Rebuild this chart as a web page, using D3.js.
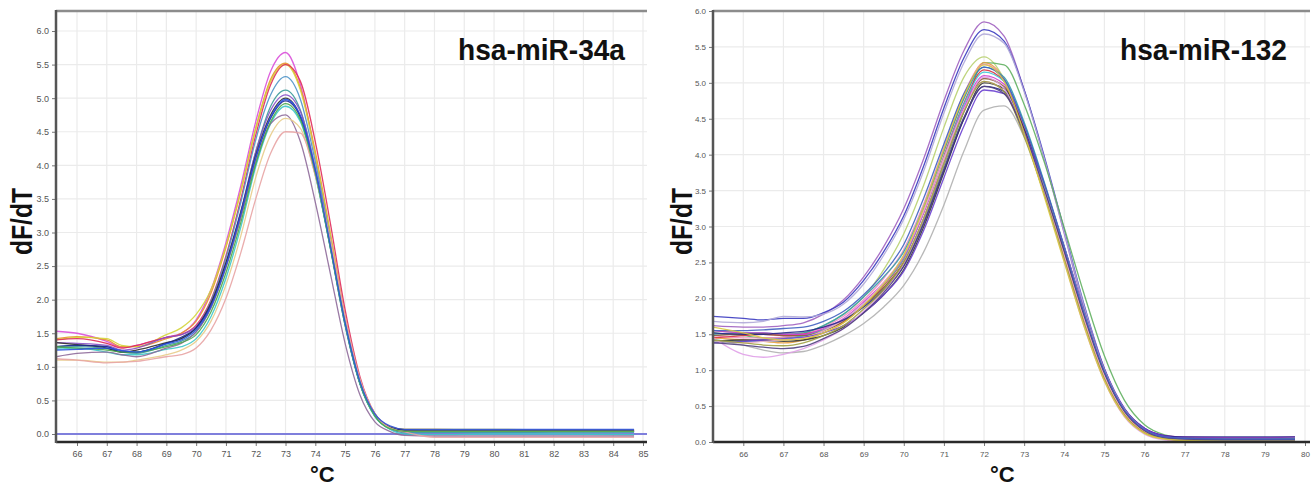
<!DOCTYPE html>
<html>
<head>
<meta charset="utf-8">
<script src="https://cdn.jsdelivr.net/npm/d3@7"></script>
<style>
  body { margin: 0; background: #fff; }
  svg { display: block; }
</style>
</head>
<body>
<svg id="fig" width="1312" height="486"></svg>
<script>
// ---------- datos: hsa-miR-34a ----------
const tempA = [65.3, 66, 67, 67.5, 68, 69, 69.5, 70, 70.5, 71, 71.5, 72, 72.5, 73, 73.5, 74, 74.5, 75, 75.5, 76, 76.5, 77, 78, 80, 82, 84.7];
const a34_01 = [1.53,1.50,1.38,1.29,1.32,1.44,1.50,1.70,2.15,2.85,3.70,4.65,5.40,5.68,5.20,4.15,2.95,1.70,0.78,0.28,0.10,0.05,0.04,0.04,0.04,0.04];
const a34_02 = [1.42,1.45,1.40,1.30,1.30,1.42,1.50,1.68,2.10,2.78,3.62,4.55,5.28,5.52,5.15,4.20,3.00,1.75,0.80,0.30,0.11,0.07,0.07,0.06,0.06,0.06];
const a34_03 = [1.40,1.44,1.42,1.32,1.30,1.48,1.58,1.78,2.15,2.80,3.62,4.55,5.25,5.50,5.12,4.15,2.98,1.72,0.80,0.30,0.11,0.07,0.07,0.07,0.06,0.06];
const a34_04 = [1.40,1.42,1.35,1.28,1.32,1.44,1.48,1.62,2.00,2.65,3.50,4.45,5.20,5.50,5.25,4.35,3.15,1.85,0.85,0.30,0.10,0.05,0.04,0.04,0.04,0.04];
const a34_05 = [1.30,1.32,1.30,1.24,1.22,1.35,1.42,1.58,1.98,2.62,3.45,4.38,5.05,5.32,4.98,4.05,2.90,1.68,0.76,0.27,0.08,0.02,0.02,0.02,0.03,0.03];
const a34_06 = [1.28,1.30,1.27,1.22,1.20,1.32,1.38,1.52,1.90,2.50,3.30,4.20,4.88,5.12,4.82,3.95,2.85,1.65,0.75,0.27,0.08,0.03,0.03,0.03,0.03,0.03];
const a34_07 = [1.36,1.35,1.32,1.25,1.28,1.44,1.48,1.60,1.95,2.55,3.32,4.20,4.82,5.05,4.80,3.95,2.85,1.65,0.75,0.27,0.09,0.04,0.04,0.04,0.04,0.04];
const a34_08 = [1.36,1.33,1.28,1.22,1.25,1.36,1.42,1.58,1.95,2.55,3.30,4.15,4.75,5.00,4.72,3.88,2.78,1.62,0.75,0.28,0.10,0.06,0.05,0.05,0.05,0.05];
const a34_09 = [1.30,1.32,1.30,1.22,1.22,1.35,1.44,1.58,1.92,2.50,3.25,4.10,4.70,4.96,4.72,3.90,2.80,1.65,0.76,0.28,0.09,0.05,0.05,0.05,0.05,0.05];
const a34_10 = [1.26,1.28,1.22,1.18,1.18,1.26,1.30,1.42,1.75,2.32,3.08,3.98,4.62,4.88,4.65,3.85,2.78,1.62,0.74,0.26,0.07,0.00,-0.01,0.00,0.00,-0.01];
const a34_11 = [1.15,1.20,1.22,1.18,1.15,1.28,1.35,1.52,1.88,2.48,3.22,4.05,4.62,4.75,4.35,3.45,2.40,1.35,0.58,0.18,0.04,-0.02,-0.03,-0.03,-0.03,-0.03];
const a34_12 = [1.10,1.10,1.07,1.07,1.10,1.18,1.25,1.38,1.68,2.22,2.95,3.82,4.45,4.70,4.55,3.85,2.85,1.70,0.80,0.30,0.09,0.04,0.04,0.04,0.04,0.04];
const a34_13 = [1.12,1.10,1.06,1.07,1.08,1.15,1.18,1.28,1.55,2.02,2.70,3.50,4.18,4.50,4.48,3.85,2.90,1.75,0.82,0.30,0.09,0.03,-0.05,-0.05,-0.05,-0.05];
const a34_14 = [1.30,1.28,1.25,1.22,1.22,1.30,1.36,1.48,1.82,2.40,3.15,4.02,4.65,4.92,4.68,3.88,2.80,1.65,0.76,0.27,0.08,0.04,0.04,0.04,0.04,0.04];
const a34_15 = [1.25,1.26,1.28,1.24,1.22,1.34,1.40,1.55,1.90,2.50,3.28,4.12,4.72,4.98,4.74,3.92,2.82,1.66,0.78,0.30,0.12,0.07,0.07,0.07,0.07,0.07];
const curvesA = [a34_01, a34_02, a34_03, a34_04, a34_05, a34_06, a34_07, a34_08, a34_09, a34_10, a34_11, a34_12, a34_13, a34_14, a34_15];
const xTicksA = [66, 67, 68, 69, 70, 71, 72, 73, 74, 75, 76, 77, 78, 79, 80, 81, 82, 83, 84, 85];

// ---------- datos: hsa-miR-132 ----------
const tempB = [65.25, 66, 66.5, 67, 67.5, 68, 68.5, 69, 69.5, 70, 70.5, 71, 71.5, 72, 72.5, 73, 73.5, 74, 74.5, 75, 75.5, 76, 76.5, 77, 78, 79, 79.75];
const b132_01 = [1.62,1.60,1.60,1.62,1.66,1.78,1.98,2.30,2.72,3.25,3.95,4.75,5.45,5.85,5.65,4.90,3.95,2.90,1.85,0.98,0.42,0.15,0.06,0.04,0.03,0.03,0.03];
const b132_02 = [1.75,1.72,1.70,1.72,1.72,1.80,1.95,2.25,2.65,3.15,3.85,4.65,5.35,5.74,5.58,4.90,3.98,2.95,1.90,1.02,0.45,0.17,0.07,0.05,0.05,0.05,0.05];
const b132_03 = [1.68,1.66,1.68,1.75,1.74,1.78,1.92,2.20,2.60,3.10,3.78,4.58,5.28,5.68,5.55,4.88,3.95,2.92,1.88,1.00,0.44,0.16,0.06,0.04,0.03,0.03,0.03];
const b132_04 = [1.55,1.52,1.50,1.50,1.52,1.62,1.78,2.02,2.40,2.90,3.58,4.38,5.08,5.36,5.05,4.30,3.45,2.55,1.65,0.90,0.40,0.15,0.06,0.03,0.02,0.02,0.02];
const b132_05 = [1.52,1.48,1.45,1.45,1.48,1.55,1.68,1.90,2.15,2.50,3.10,3.85,4.60,5.28,5.25,4.70,3.90,2.98,2.05,1.20,0.58,0.24,0.10,0.06,0.05,0.05,0.05];
const b132_06 = [1.45,1.42,1.40,1.38,1.42,1.52,1.66,1.90,2.20,2.60,3.25,4.05,4.80,5.28,5.05,4.35,3.50,2.58,1.68,0.90,0.38,0.13,0.04,0.02,0.01,0.01,0.01];
const b132_07 = [1.48,1.45,1.45,1.46,1.50,1.60,1.75,1.98,2.28,2.68,3.32,4.10,4.85,5.26,5.05,4.38,3.52,2.60,1.68,0.90,0.38,0.13,0.05,0.02,0.01,0.01,0.01];
const b132_08 = [1.50,1.52,1.52,1.50,1.52,1.62,1.78,2.02,2.30,2.65,3.28,4.05,4.78,5.22,5.08,4.45,3.62,2.72,1.80,0.98,0.44,0.17,0.07,0.05,0.04,0.04,0.04];
const b132_09 = [1.45,1.48,1.50,1.48,1.50,1.56,1.68,1.90,2.18,2.55,3.20,3.98,4.72,5.18,5.02,4.38,3.55,2.65,1.75,0.96,0.42,0.15,0.05,0.02,0.00,0.00,0.00];
const b132_10 = [1.42,1.40,1.40,1.42,1.48,1.56,1.70,1.92,2.20,2.56,3.20,3.96,4.70,5.15,5.02,4.40,3.58,2.68,1.78,0.98,0.44,0.17,0.07,0.04,0.03,0.03,0.03];
const b132_11 = [1.55,1.52,1.52,1.50,1.50,1.58,1.72,1.95,2.22,2.58,3.20,3.95,4.66,5.10,4.98,4.38,3.58,2.70,1.80,1.00,0.46,0.19,0.09,0.07,0.06,0.06,0.07];
const b132_12 = [1.48,1.50,1.50,1.48,1.48,1.55,1.68,1.90,2.15,2.50,3.12,3.88,4.60,5.06,4.95,4.35,3.55,2.68,1.78,0.98,0.44,0.17,0.07,0.04,0.03,0.03,0.03];
const b132_13 = [1.40,1.42,1.42,1.40,1.42,1.48,1.60,1.80,2.05,2.40,3.00,3.75,4.50,5.00,4.92,4.35,3.55,2.68,1.78,0.98,0.44,0.17,0.07,0.04,0.03,0.03,0.03];
const b132_14 = [1.40,1.38,1.40,1.42,1.45,1.55,1.70,1.92,2.22,2.60,3.22,3.95,4.62,5.02,4.88,4.28,3.48,2.60,1.70,0.92,0.40,0.14,0.05,0.03,0.02,0.02,0.02];
const b132_15 = [1.52,1.50,1.50,1.52,1.54,1.60,1.70,1.88,2.12,2.45,3.05,3.78,4.50,4.95,4.88,4.32,3.55,2.70,1.80,1.00,0.46,0.19,0.09,0.07,0.07,0.07,0.07];
const b132_16 = [1.38,1.40,1.42,1.44,1.46,1.52,1.62,1.80,2.05,2.38,2.95,3.68,4.40,4.90,4.85,4.32,3.58,2.72,1.82,1.02,0.47,0.19,0.08,0.05,0.04,0.04,0.04];
const b132_17 = [1.40,1.35,1.28,1.24,1.26,1.35,1.48,1.65,1.88,2.18,2.65,3.30,4.05,4.62,4.68,4.25,3.55,2.70,1.80,1.00,0.45,0.17,0.06,0.03,0.02,0.02,0.02];
const b132_18 = [1.45,1.22,1.18,1.22,1.30,1.42,1.58,1.82,2.10,2.48,3.12,3.88,4.62,5.08,4.92,4.28,3.45,2.52,1.60,0.85,0.35,0.11,0.03,0.01,0.00,0.00,0.00];
const b132_19 = [1.42,1.38,1.35,1.34,1.38,1.48,1.62,1.85,2.12,2.50,3.12,3.88,4.60,5.02,4.88,4.25,3.45,2.55,1.65,0.88,0.38,0.13,0.05,0.02,0.01,0.01,0.01];
const b132_20 = [1.38,1.35,1.32,1.30,1.33,1.44,1.58,1.80,2.08,2.45,3.05,3.80,4.52,4.95,4.85,4.30,3.52,2.65,1.75,0.96,0.43,0.16,0.06,0.04,0.03,0.03,0.03];
const b132_21 = [1.55,1.55,1.56,1.58,1.60,1.68,1.82,2.05,2.35,2.75,3.40,4.15,4.85,5.22,5.05,4.42,3.60,2.70,1.78,0.98,0.44,0.17,0.07,0.05,0.04,0.04,0.04];
const b132_22 = [1.60,1.52,1.45,1.42,1.44,1.52,1.66,1.90,2.20,2.60,3.28,4.08,4.82,5.25,5.02,4.30,3.42,2.50,1.60,0.85,0.36,0.12,0.04,0.02,0.01,0.01,0.01];
const curvesB = [b132_01, b132_02, b132_03, b132_04, b132_05, b132_06, b132_07, b132_08, b132_09, b132_10, b132_11,
                 b132_12, b132_13, b132_14, b132_15, b132_16, b132_17, b132_18, b132_19, b132_20, b132_21, b132_22];
const xTicksB = [66, 67, 68, 69, 70, 71, 72, 73, 74, 75, 76, 77, 78, 79, 80];

const yTicks = [0, 0.5, 1, 1.5, 2, 2.5, 3, 3.5, 4, 4.5, 5, 5.5, 6];

// ---------- dibujo ----------
const svg = d3.select("#fig");

function drawPanel(cfg) {
    // escalas
    let x = d3.scaleLinear().domain([cfg.xTicks[0], cfg.xTicks[cfg.xTicks.length - 1]]).range(cfg.xRange);
    let y = d3.scaleLinear().domain([0, 6]).range(cfg.yRange);
    let box = cfg.box; // left, top, right, bottom

    let g = svg.append("g").attr("id", cfg.id);

    // rejilla
    g.append("g").selectAll("line")
        .data(cfg.xTicks.filter(d => x(d) > box.left + 2 && x(d) < box.right - 2))
        .join("line")
        .attr("x1", d => x(d)).attr("x2", d => x(d))
        .attr("y1", box.top).attr("y2", box.bottom)
        .attr("stroke", "#ebebeb").attr("stroke-width", 1.2);
    g.append("g").selectAll("line")
        .data(yTicks.filter(d => y(d) > box.top + 2 && y(d) < box.bottom - 2))
        .join("line")
        .attr("x1", box.left).attr("x2", box.right)
        .attr("y1", d => y(d)).attr("y2", d => y(d))
        .attr("stroke", "#ebebeb").attr("stroke-width", 1.2);

    // recorte
    svg.append("clipPath").attr("id", cfg.id + "_clip")
        .append("rect")
        .attr("x", box.left).attr("y", box.top)
        .attr("width", box.right - box.left).attr("height", box.bottom - box.top);

    let plot = g.append("g").attr("clip-path", `url(#${cfg.id}_clip)`);

    if (cfg.baseline) {
        plot.append("line")
            .attr("x1", box.left).attr("x2", box.right)
            .attr("y1", y(0)).attr("y2", y(0))
            .attr("stroke", "#7f7fdc").attr("stroke-width", 1.8);
    }

    let line = d3.line()
        .x((d, i) => x(cfg.temps[i]))
        .y(d => y(d))
        .curve(d3.curveMonotoneX);

    plot.selectAll("path.curve")
        .data(cfg.curves)
        .join("path")
        .attr("class", "curve")
        .attr("d", line)
        .attr("fill", "none")
        .attr("stroke", (d, i) => cfg.colors[i % cfg.colors.length])
        .attr("stroke-width", 1.3)
        .attr("stroke-opacity", 0.9);

    // ejes
    let axisX = d3.axisBottom(x).tickValues(cfg.xTicks).tickSize(4).tickPadding(5).tickFormat(d3.format("d"));
    let ejeX = g.append("g")
        .attr("transform", `translate(0,${box.bottom})`)
        .call(axisX);
    let axisY = d3.axisLeft(y).tickValues(yTicks).tickSize(4).tickPadding(3).tickFormat(d3.format(".1f"));
    let ejeY = g.append("g")
        .attr("transform", `translate(${box.left},0)`)
        .call(axisY);
    [ejeX, ejeY].forEach(e => {
        e.select(".domain").remove();
        e.selectAll(".tick line").attr("stroke", "#777");
        e.selectAll(".tick text")
            .attr("fill", "#555")
            .style("font-family", "'Liberation Sans', Arial, sans-serif")
            .style("font-size", cfg.tickFont + "px");
    });

    // marco
    g.append("line").attr("x1", box.left).attr("x2", box.right).attr("y1", box.top).attr("y2", box.top)
        .attr("stroke", "#8c8c8c").attr("stroke-width", 2.5);
    g.append("line").attr("x1", box.left).attr("x2", box.right).attr("y1", box.bottom).attr("y2", box.bottom)
        .attr("stroke", "#2a2a2a").attr("stroke-width", 2.5);
    g.append("line").attr("x1", box.left).attr("x2", box.left).attr("y1", box.top - 1).attr("y2", box.bottom + 1)
        .attr("stroke", "#555").attr("stroke-width", 2.5);

    // textos
    let bold = "'Liberation Sans', Arial, sans-serif";
    g.append("text")
        .text(cfg.title)
        .attr("x", cfg.titleX).attr("y", 60)
        .attr("textLength", 167).attr("lengthAdjust", "spacingAndGlyphs")
        .style("font-family", bold).style("font-weight", "bold").style("font-size", "29px")
        .attr("fill", "#111");
    g.append("text")
        .text("dF/dT")
        .attr("transform", `translate(${cfg.yLabelX},255) rotate(-90)`)
        .attr("textLength", 67).attr("lengthAdjust", "spacingAndGlyphs")
        .style("font-family", bold).style("font-weight", "bold").style("font-size", "29px")
        .attr("fill", "#111");
    g.append("text")
        .text("°C")
        .attr("x", cfg.unitX).attr("y", 482)
        .style("font-family", bold).style("font-weight", "bold").style("font-size", "22px")
        .attr("fill", "#111");
}

drawPanel({
    id: "miR34a",
    temps: tempA,
    curves: curvesA,
    colors: ["#d94fd9", "#e8902a", "#d4d43a", "#e02a5a", "#4e94c8", "#3b9a9a", "#8a4fc8", "#303030",
             "#1f2a8c", "#3cc8c8", "#8e6a9a", "#e8cc8a", "#e8a4a4", "#4aa84a", "#2a50e0"],
    xTicks: xTicksA,
    xRange: [77, 643],
    yRange: [434, 31],
    box: { left: 56, top: 11, right: 647, bottom: 442 },
    baseline: true,
    tickFont: 9,
    title: "hsa-miR-34a",
    titleX: 458,
    yLabelX: 32,
    unitX: 310
});

drawPanel({
    id: "miR132",
    temps: tempB,
    curves: curvesB,
    colors: ["#a060c0", "#3a3ac0", "#b0a8d8", "#b8d070", "#60b060", "#e8a040", "#f08cc0", "#30a0a8",
             "#d83040", "#40c8d8", "#d040d0", "#906040", "#383838", "#f0b0c8", "#28288a", "#6a40d0",
             "#b0b0b0", "#e0a0e8", "#a0a040", "#504080", "#4060c0", "#d8c840"],
    xTicks: xTicksB,
    xRange: [743.3, 1305],
    yRange: [442, 11],
    box: { left: 713, top: 11, right: 1310, bottom: 442 },
    baseline: false,
    tickFont: 8,
    title: "hsa-miR-132",
    titleX: 1120,
    yLabelX: 692,
    unitX: 990
});
</script>
</body>
</html>
